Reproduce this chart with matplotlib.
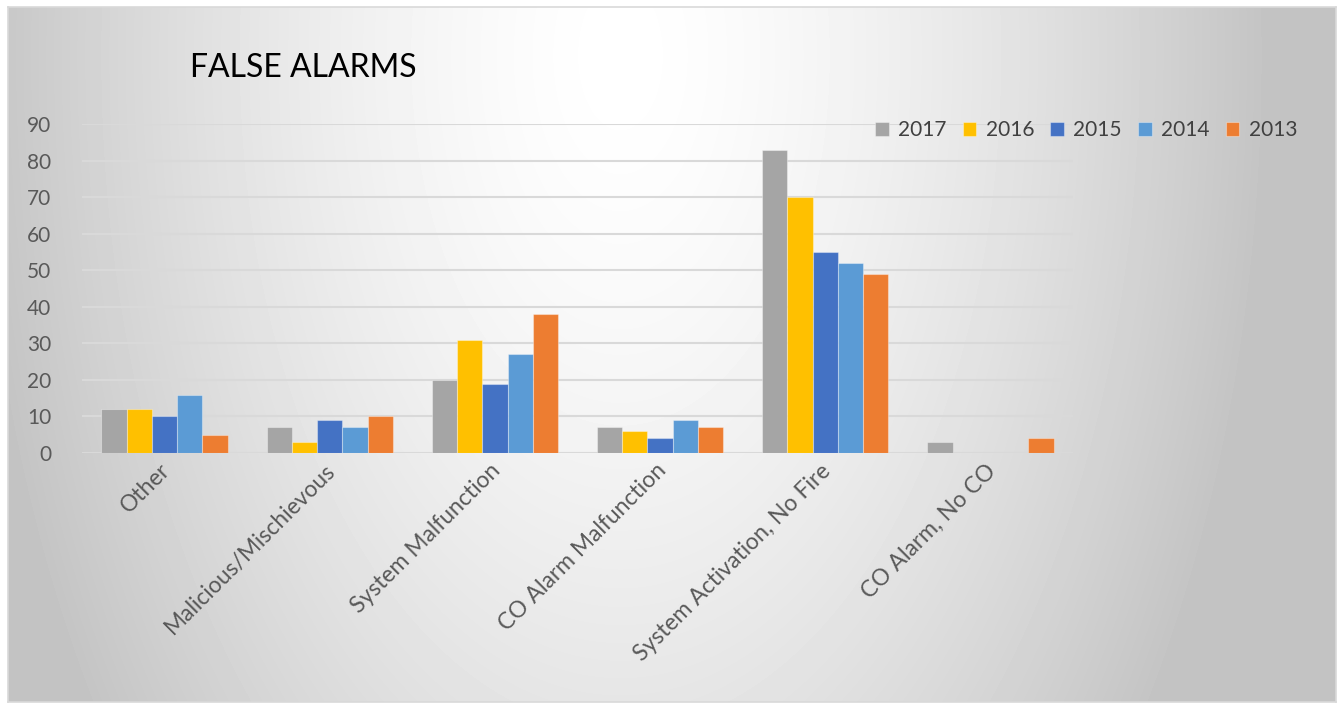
import numpy as np
import matplotlib
matplotlib.use("Agg")
import matplotlib.pyplot as plt

plt.rcParams['font.family'] = ['Lato', 'DejaVu Sans']

categories = ["Other", "Malicious/Mischievous", "System Malfunction",
              "CO Alarm Malfunction", "System Activation, No Fire", "CO Alarm, No CO"]
years = ["2017", "2016", "2015", "2014", "2013"]
v2017 = [12, 7, 20, 7, 83, 3]
v2016 = [12, 3, 31, 6, 70, 0]
v2015 = [10, 9, 19, 4, 55, 0]
v2014 = [16, 7, 27, 9, 52, 0]
v2013 = [5, 10, 38, 7, 49, 4]
series = [v2017, v2016, v2015, v2014, v2013]
colors = ["#a5a5a5", "#ffc000", "#4472c4", "#5b9bd5", "#ed7d31"]
yticks = [0, 10, 20, 30, 40, 50, 60, 70, 80, 90]

W, H = 1338, 704
fig = plt.figure(figsize=(W / 100, H / 100), dpi=100)
fig.patch.set_facecolor("white")

# soft radial background of the chart area
bg = fig.add_axes([8 / W, 2 / H, 1328 / W, 695 / H], zorder=0)
yy, xx = np.mgrid[0:695, 0:1328]
d = np.sqrt(((xx - 612) / 650.0) ** 2 + ((yy - 48) / 1150.0) ** 2)
shade = 255 - 60 * np.clip(d, 0, 1) ** 1.5
bg.imshow(shade, cmap="gray", vmin=0, vmax=255, aspect="auto",
          interpolation="bilinear")
bg.set_xticks([])
bg.set_yticks([])
for s in bg.spines.values():
    s.set_color("#d9d9d9")
    s.set_linewidth(1.2)

ax = fig.add_axes([82 / W, 1 - 453 / H, (1073 - 82) / W, (453 - 124) / H], zorder=1)
ax.patch.set_alpha(0)

x = np.arange(len(categories))
bw = 0.153
for i, (vals, c, yr) in enumerate(zip(series, colors, years)):
    ax.bar(x + (i - 2) * bw, vals, bw, color=c, label=yr,
           edgecolor=(1, 1, 1, 0.35), linewidth=0.8, zorder=3)

ax.set_xlim(-0.5, len(categories) - 0.5)
ax.set_ylim(0, 90)
ax.set_yticks(yticks)
ax.set_yticklabels([str(t) for t in yticks], fontsize=15, color="#595959")
ax.tick_params(axis="y", length=0, pad=22)
ax.tick_params(axis="x", length=0, pad=5)
ax.set_xticks(x - 0.03)
ax.set_xticklabels(categories, rotation=45, ha="right", va="top",
                   rotation_mode="anchor", fontsize=16.5, color="#595959")
ax.yaxis.grid(True, color="#d9d9d9", linewidth=1.5, zorder=0)
ax.set_axisbelow(True)
for s in ax.spines.values():
    s.set_visible(False)

fig.text(190 / W, 1 - 77 / H, "FALSE ALARMS", fontsize=23, color="black",
         va="baseline", ha="left")

fig.legend(loc="center left", bbox_to_anchor=(875 / W, 1 - 130 / H), ncol=5,
           frameon=False, fontsize=15, handlelength=0.65, handleheight=0.65,
           handletextpad=0.45, columnspacing=0.78, borderpad=0, borderaxespad=0,
           labelcolor="#404040")

fig.savefig("out.png", dpi=100, facecolor=fig.get_facecolor())
